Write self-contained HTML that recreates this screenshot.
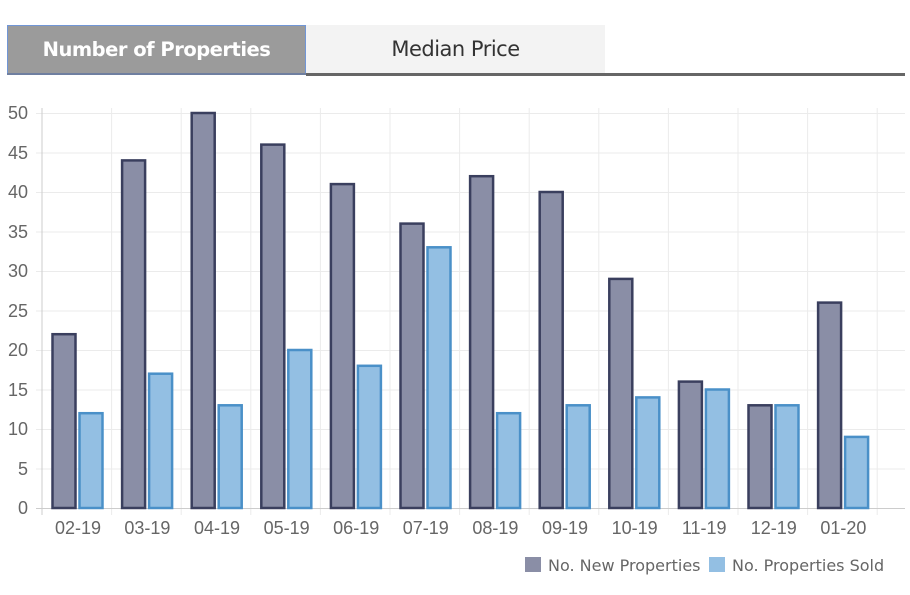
<!DOCTYPE html>
<html><head><meta charset="utf-8"><style>
body{margin:0;width:910px;height:595px;background:#fff;font-family:"Liberation Sans",sans-serif;overflow:hidden;position:relative}
.tab{position:absolute;top:25px;height:48px;line-height:48px;text-align:center;font-size:21px;font-family:"DejaVu Sans","Liberation Sans",sans-serif}
</style></head><body>
<div class="tab" style="left:7px;width:297px;background:#9b9b9b;color:#fff;font-weight:bold;border:1px solid #7196d6;height:47px;letter-spacing:-0.5px;font-size:19.5px">Number of Properties</div>
<div class="tab" style="left:306px;width:299px;background:#f3f3f3;color:#333;letter-spacing:-0.5px">Median Price</div>
<div style="position:absolute;left:306px;top:73px;width:599px;height:3px;background:#666"></div>
<div style="position:absolute;left:7px;top:73px;width:299px;height:2px;background:#6f7fa0"></div>
<svg width="910" height="595" style="position:absolute;left:0;top:0;font-family:'Liberation Sans',sans-serif" font-size="18" fill="#666">
<g stroke="#ebebeb" stroke-width="1">
<line x1="36" x2="905" y1="113.5" y2="113.5"/><line x1="36" x2="905" y1="153" y2="153"/><line x1="36" x2="905" y1="192.5" y2="192.5"/><line x1="36" x2="905" y1="232" y2="232"/><line x1="36" x2="905" y1="271.5" y2="271.5"/><line x1="36" x2="905" y1="311" y2="311"/><line x1="36" x2="905" y1="350.5" y2="350.5"/><line x1="36" x2="905" y1="390" y2="390"/><line x1="36" x2="905" y1="429.5" y2="429.5"/><line x1="36" x2="905" y1="469" y2="469"/>
<line x1="111.6" x2="111.6" y1="108" y2="515"/><line x1="181.2" x2="181.2" y1="108" y2="515"/><line x1="250.8" x2="250.8" y1="108" y2="515"/><line x1="320.4" x2="320.4" y1="108" y2="515"/><line x1="390" x2="390" y1="108" y2="515"/><line x1="459.6" x2="459.6" y1="108" y2="515"/><line x1="529.2" x2="529.2" y1="108" y2="515"/><line x1="598.8" x2="598.8" y1="108" y2="515"/><line x1="668.4" x2="668.4" y1="108" y2="515"/><line x1="738" x2="738" y1="108" y2="515"/><line x1="807.6" x2="807.6" y1="108" y2="515"/><line x1="877.2" x2="877.2" y1="108" y2="515"/>
</g>
<line x1="42" x2="42" y1="108" y2="515" stroke="#ccc"/>
<line x1="36" x2="905" y1="508.5" y2="508.5" stroke="#ccc"/>
<g text-anchor="end">
<text x="28" y="119">50</text><text x="28" y="159">45</text><text x="28" y="198">40</text><text x="28" y="238">35</text><text x="28" y="277">30</text><text x="28" y="317">25</text><text x="28" y="356">20</text><text x="28" y="396">15</text><text x="28" y="435">10</text><text x="28" y="475">5</text><text x="28" y="514">0</text>
</g>
<g text-anchor="middle">
<text x="78" y="534">02-19</text><text x="147.4" y="534">03-19</text><text x="217" y="534">04-19</text><text x="286.6" y="534">05-19</text><text x="356.2" y="534">06-19</text><text x="425.8" y="534">07-19</text><text x="495.4" y="534">08-19</text><text x="565" y="534">09-19</text><text x="634.6" y="534">10-19</text><text x="704.2" y="534">11-19</text><text x="773.8" y="534">12-19</text><text x="843.4" y="534">01-20</text>
</g>
<g transform="translate(0,508) scale(1,-1)" stroke-width="2.5">
<g fill="#8a8ea6" stroke="#3a3f5e">
<rect x="52.5" y="0" width="23" height="173.8"/><rect x="122.1" y="0" width="23" height="347.6"/><rect x="191.7" y="0" width="23" height="395"/><rect x="261.3" y="0" width="23" height="363.4"/><rect x="330.9" y="0" width="23" height="323.9"/><rect x="400.5" y="0" width="23" height="284.4"/><rect x="470.1" y="0" width="23" height="331.8"/><rect x="539.7" y="0" width="23" height="316"/><rect x="609.3" y="0" width="23" height="229.1"/><rect x="678.9" y="0" width="23" height="126.4"/><rect x="748.5" y="0" width="23" height="102.7"/><rect x="818.1" y="0" width="23" height="205.4"/>
</g>
<g fill="#93bfe3" stroke="#4a90c8">
<rect x="79.5" y="0" width="23" height="94.8"/><rect x="149.1" y="0" width="23" height="134.3"/><rect x="218.7" y="0" width="23" height="102.7"/><rect x="288.3" y="0" width="23" height="158"/><rect x="357.9" y="0" width="23" height="142.2"/><rect x="427.5" y="0" width="23" height="260.7"/><rect x="497.1" y="0" width="23" height="94.8"/><rect x="566.7" y="0" width="23" height="102.7"/><rect x="636.3" y="0" width="23" height="110.6"/><rect x="705.9" y="0" width="23" height="118.5"/><rect x="775.5" y="0" width="23" height="102.7"/><rect x="845.1" y="0" width="23" height="71.1"/>
</g>
</g>
<rect x="525" y="557" width="16" height="15" fill="#8a8ea6"/>
<text x="548" y="571" style="font-family:'DejaVu Sans',sans-serif" font-size="16">No. New Properties</text>
<rect x="709" y="557" width="16" height="15" fill="#93bfe3"/>
<text x="732" y="571" style="font-family:'DejaVu Sans',sans-serif" font-size="16">No. Properties Sold</text>
</svg>
</body></html>
